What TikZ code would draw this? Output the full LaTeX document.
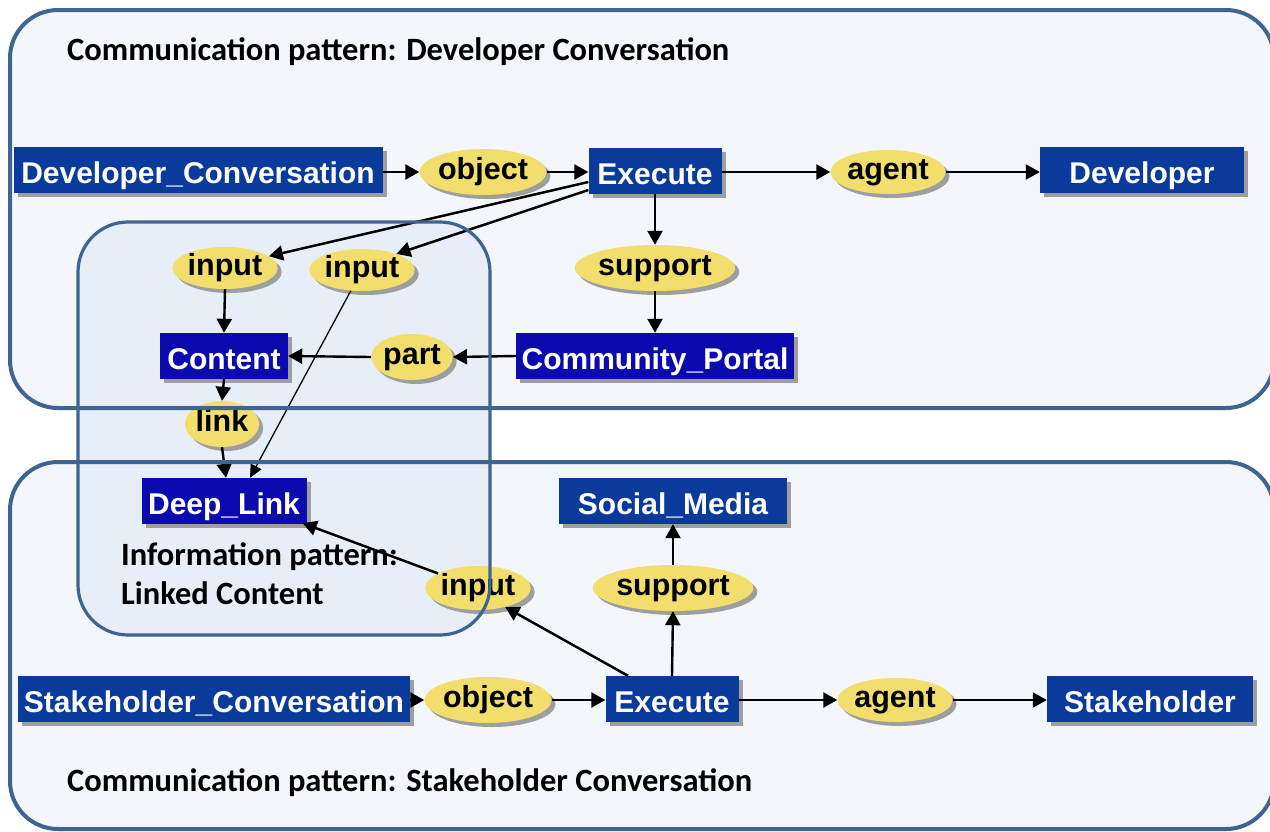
\documentclass[tikz,border=0pt]{standalone}
\usepackage{fontspec}
\setmainfont{Liberation Sans}
\newfontfamily\calfont{Carlito}
\usetikzlibrary{shapes.geometric,arrows.meta,shadows,calc}
\definecolor{cfill}{HTML}{F3F6FA}
\definecolor{ifill}{HTML}{E8EEF7}
\definecolor{cborder}{HTML}{3E6491}
\definecolor{boxa}{HTML}{0A3A9C}
\definecolor{boxb}{HTML}{0A0AAF}
\definecolor{ellfill}{HTML}{F2DE6C}
\tikzset{
  shad/.style={drop shadow={shadow xshift=4pt,shadow yshift=-4pt,fill=black!38,opacity=1}},
  cbox/.style={rectangle,fill=boxa,text=white,font=\fontsize{30}{30}\selectfont\bfseries,
    minimum height=46pt,inner sep=0pt,text height=27pt,text depth=0pt,shad},
  vbox/.style={cbox,fill=boxb},
  rel/.style={ellipse,fill=ellfill,text=black,font=\fontsize{30.5}{30}\selectfont\bfseries,
    inner sep=0pt,text height=19pt,text depth=4pt,shad},
  arr/.style={-{Triangle[length=14pt,width=15pt]},line width=2.4pt,black},
  thinarr/.style={-{Triangle[length=13pt,width=12pt]},line width=1.3pt,black},
  lshadow/.style={draw=black!40,line width=2.2pt,xshift=2pt,yshift=-2pt},
  ttl/.style={font=\fontsize{32.5}{32.5}\calfont\bfseries,anchor=west,inner sep=0pt},
}
\begin{document}
\begin{tikzpicture}[x=1pt,y=-1pt]
\useasboundingbox (0,0) rectangle (1270,831);
\fill[white] (0,0) rectangle (1270,831);
% container fills
\path[fill=cfill,rounded corners=48pt] (10,10) rectangle (1274,408);
\path[fill=cfill,rounded corners=48pt] (10,462) rectangle (1274,829);
\path[fill=ifill,rounded corners=50pt] (78,222) rectangle (490,635);

% titles
\node[ttl] (t1) at (67,52) {Communication pattern: Developer Conversation};
\node[ttl] (t2) at (67,783) {Communication pattern: Stakeholder Conversation};
\node[ttl,align=left,anchor=north west,font=\fontsize{32.5}{39}\calfont\bfseries] (t3) at (121,542) {Information pattern:\\Linked Content};

% nodes
\node[cbox,minimum width=369pt] (dc) at (198,170) {Developer\_Conversation};
\node[rel,minimum width=105pt,minimum height=46pt] (ob1) at (483,172) {object};
\node[cbox,minimum width=133pt] (ex1) at (655,171) {Execute};
\node[rel,minimum width=95pt,minimum height=44pt] (ag1) at (888,172) {agent};
\node[cbox,minimum width=204pt] (dev) at (1142,170) {Developer};
\node[rel,minimum width=90pt,minimum height=42pt] (in1) at (225,268) {input};
\node[rel,minimum width=90pt,minimum height=42pt] (in2) at (362,270) {input};
\node[rel,minimum width=125pt,minimum height=46pt] (su1) at (655,268) {support};
\node[vbox,minimum width=128pt] (con) at (224,356) {Content};
\node[rel,minimum width=66pt,minimum height=46pt] (part) at (412,357) {part};
\node[vbox,minimum width=278pt] (cp) at (655,356) {Community\_Portal};
\node[rel,minimum width=62pt,minimum height=46pt] (lnk) at (222,424) {link};
\node[vbox,minimum width=165pt] (dl) at (224,501) {Deep\_Link};
\node[cbox,minimum width=228pt] (sm) at (673,501) {Social\_Media};
\node[rel,minimum width=125pt,minimum height=46pt] (su2) at (673,588) {support};
\node[rel,minimum width=90pt,minimum height=44pt] (in3) at (478,588) {input};
\node[cbox,minimum width=392pt] (sc) at (214,699) {Stakeholder\_Conversation};
\node[rel,minimum width=105pt,minimum height=46pt] (ob2) at (488,700) {object};
\node[cbox,minimum width=133pt] (ex2) at (672,699) {Execute};
\node[rel,minimum width=95pt,minimum height=44pt] (ag2) at (895,700) {agent};
\node[cbox,minimum width=206pt] (sh) at (1150,699) {Stakeholder};

% edges top
\draw[arr] (dc.east |- ob1) -- (ob1.west);
\draw[arr] (ob1.east) -- (ex1.west |- ob1);
\draw[arr] (ex1.east |- ag1) -- (ag1.west);
\draw[arr] (ag1.east) -- (dev.west |- ag1);
\draw[arr] (ex1.south) -- (su1.north);
\draw[arr] (su1.south) -- (cp.north);
\draw[arr] (cp.west) -- (part.east);
\draw[arr] (part.west) -- (con.east);
\path[lshadow] ([yshift=-11pt]ex1.west) -- ($(in1.15)!6pt!([yshift=-11pt]ex1.west)$);
\draw[arr] ([yshift=-11pt]ex1.west) -- (in1.15);
\path[lshadow] ([yshift=-19pt]ex1.west) -- ($(in2.25)!6pt!([yshift=-19pt]ex1.west)$);
\draw[arr] ([yshift=-19pt]ex1.west) -- (in2.25);
\draw[arr] (in1.south) -- (con.north);
\draw[thinarr] (in2) -- ([xshift=26pt]dl.north);
\draw[arr] (con.south) -- (lnk.north);
\draw[arr] (lnk.south) -- ([xshift=2pt]dl.north);
% edges bottom
\path[lshadow] ([xshift=-44pt]ex2.north) -- ($(in3.-35)!6pt!([xshift=-44pt]ex2.north)$);
\draw[arr] ([xshift=-44pt]ex2.north) -- (in3.-35);
\path[lshadow] (in3.160) -- ($([xshift=-4pt,yshift=1pt]dl.south east)!6pt!(in3.160)$);
\draw[arr] (in3.160) -- ([xshift=-4pt,yshift=1pt]dl.south east);
\draw[arr] (ex2.north) -- (su2.south);
\draw[arr] (su2.north) -- (sm.south);
\draw[arr] (sc.east |- ob2) -- (ob2.west);
\draw[arr] (ob2.east) -- (ex2.west |- ob2);
\draw[arr] (ex2.east |- ag2) -- (ag2.west);
\draw[arr] (ag2.east) -- (sh.west |- ag2);

% borders on top
\draw[cborder,line width=4pt,rounded corners=48pt] (10,10) rectangle (1274,408);
\draw[cborder,line width=4pt,rounded corners=48pt] (10,462) rectangle (1274,829);
\draw[cborder,line width=3.2pt,rounded corners=50pt] (78,222) rectangle (490,635);
\end{tikzpicture}
\end{document}
